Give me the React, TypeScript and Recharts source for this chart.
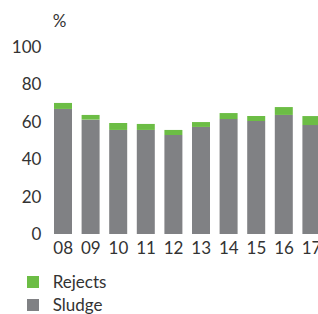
import React from "react";
import { BarChart, Bar, XAxis, YAxis } from "recharts";

const years = ["08", "09", "10", "11", "12", "13", "14", "15", "16", "17"];
const sludge = [66.7, 61, 55.5, 55.5, 52.8, 57.1, 61.3, 60.3, 63.5, 58.1];
const rejects = [3.2, 2.5, 3.7, 3.2, 2.7, 2.6, 3.2, 2.6, 4.2, 4.8];
const yTicks = [0, 20, 40, 60, 80, 100];

const GREEN = "#6cbd45";
const GRAY = "#808184";
const TEXT = "#333333";
const FONT = "Lato, 'Liberation Sans', sans-serif";

const data = years.map((y, i) => ({ year: y, sludge: sludge[i], rejects: rejects[i] }));

export default function App() {
  return (
    <div style={{ position: "fixed", left: 0, top: 0, width: 318, height: 314, overflow: "hidden", fontFamily: FONT, color: TEXT, background: "#fff" }}>
      <div style={{ position: "absolute", left: 0, top: 0 }}>
        <BarChart
          width={326}
          height={314}
          data={data}
          margin={{ top: 46.5, right: 0.6, left: 0, bottom: 50 }}
          barCategoryGap={4.6}
          style={{ overflow: "visible" }}
        >
          <YAxis
            width={49.4}
            domain={[0, 100]}
            ticks={yTicks}
            axisLine={false}
            tickLine={false}
            tick={{ fill: TEXT, fontSize: 17, fontFamily: FONT }}
            interval={0}
          />
          <XAxis
            dataKey="year"
            axisLine={false}
            tickLine={false}
            tick={{ fill: TEXT, fontSize: 17, fontFamily: FONT }}
            interval={0}
          />
          <Bar dataKey="sludge" stackId="a" fill={GRAY} isAnimationActive={false} />
          <Bar dataKey="rejects" stackId="a" fill={GREEN} isAnimationActive={false} />
        </BarChart>
      </div>
      <div style={{ position: "absolute", left: 52.7, top: 11, fontSize: 17, lineHeight: "20px" }}>%</div>
      <div style={{ position: "absolute", left: 27, top: 276, width: 12, height: 12, background: GREEN }} />
      <div style={{ position: "absolute", left: 52.7, top: 272, fontSize: 17, lineHeight: "20px" }}>Rejects</div>
      <div style={{ position: "absolute", left: 27, top: 299, width: 12, height: 12, background: GRAY }} />
      <div style={{ position: "absolute", left: 52.7, top: 295, fontSize: 17, lineHeight: "20px" }}>Sludge</div>
    </div>
  );
}
